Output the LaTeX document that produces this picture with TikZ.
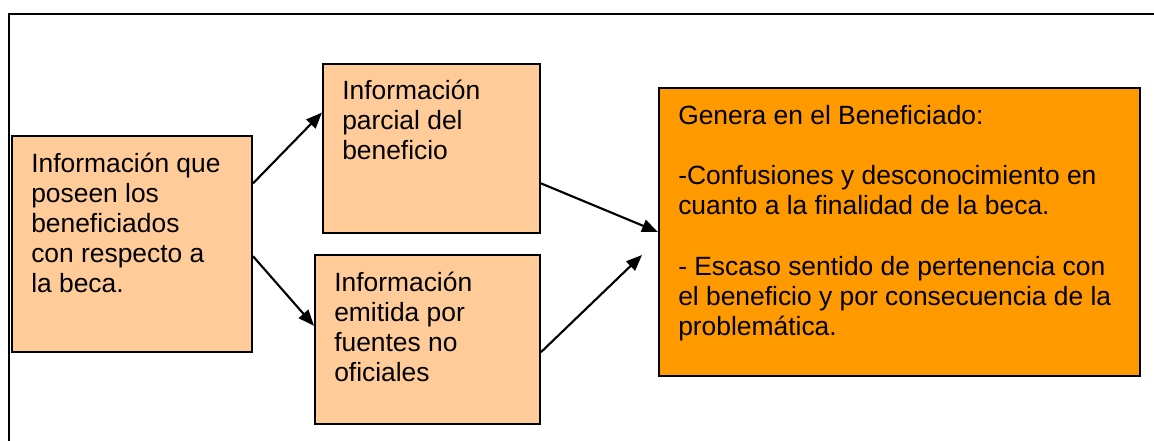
\documentclass[tikz,border=0pt]{standalone}
\usepackage{fontspec}
\setmainfont{Liberation Sans}
\usetikzlibrary{calc,arrows.meta}
\definecolor{peach}{HTML}{FFCC99}
\definecolor{deeporange}{HTML}{FF9900}
\tikzset{
  box/.style={draw=black, line width=1.5pt, inner sep=0pt, anchor=north west},
  lightbox/.style={box, fill=peach},
  darkbox/.style={box, fill=deeporange},
  txt/.style={anchor=north west, inner sep=0pt, align=left, font=\fontsize{19.8pt}{22.5pt}\selectfont},
  conn/.style={line width=1.6pt, -{Triangle[length=12pt,width=9.5pt]}},
  frame/.style={line width=1.3pt, draw=black}
}
\begin{document}
\begin{tikzpicture}[x=0.75pt,y=-0.75pt]
\useasboundingbox (0,0) rectangle (1154,441);
\coordinate (fa) at (9,441);
\coordinate (fb) at (9,14);
\coordinate (fc) at (1154,14);
\draw[frame] (fa) -- (fb) -- (fc);

\node[lightbox, minimum width=180pt, minimum height=162pt] (L) at (11,135) {};
\node[lightbox, minimum width=162.75pt, minimum height=126.75pt] (T) at (322,63) {};
\node[lightbox, minimum width=168.75pt, minimum height=126.75pt] (B) at (314,254) {};
\node[darkbox, minimum width=360.75pt, minimum height=216pt] (R) at (658,87) {};

\node[txt] (Lt) at ($(L.north west)+(20,16)$) {\strut Información que\\poseen los\\beneficiados\\con respecto a\\la beca.};
\node[txt] (Tt) at ($(T.north west)+(20,15)$) {\strut Información\\parcial del\\beneficio};
\node[txt] (Bt) at ($(B.north west)+(20,16)$) {\strut Información\\emitida por\\fuentes no\\oficiales};
\node[txt] (Rt) at ($(R.north west)+(20,16)$) {\strut Genera en el Beneficiado:\\[22.5pt]-Confusiones y desconocimiento en\\cuanto a la finalidad de la beca.\\[23.5pt]- Escaso sentido de pertenencia con\\el beneficio y por consecuencia de la\\problemática.};

\coordinate (Rin) at ($(R.north west)+(-16,168)$);
\draw[conn] ($(L.north east)!0.222!(L.south east)$) -- ($(T.north west)!0.29!(T.south west)$);
\draw[conn] ($(L.north east)!0.556!(L.south east)$) -- ($(B.north west)!0.42!(B.south west)$);
\draw[conn] ($(T.north east)!0.704!(T.south east)$) -- (R.west);
\draw[conn] ($(B.north east)!0.574!(B.south east)$) -- (Rin);
\end{tikzpicture}
\end{document}
